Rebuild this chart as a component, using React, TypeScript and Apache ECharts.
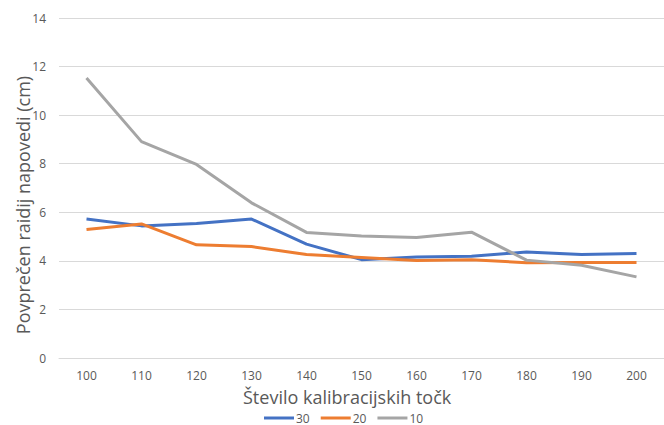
import React, { useEffect, useRef } from "react";
import * as echarts from "echarts";

const categories = ["100", "110", "120", "130", "140", "150", "160", "170", "180", "190", "200"];
const series30 = [5.72, 5.44, 5.54, 5.72, 4.69, 4.05, 4.16, 4.19, 4.36, 4.26, 4.3];
const series20 = [5.29, 5.52, 4.66, 4.59, 4.26, 4.14, 4.01, 4.05, 3.92, 3.93, 3.93];
const series10 = [11.53, 8.91, 7.97, 6.39, 5.17, 5.02, 4.96, 5.18, 4.03, 3.82, 3.34];
const seriesNames = ["30", "20", "10"];
const colors = ["#4472C4", "#ED7D31", "#A5A5A5"];

const FONT = "'Open Sans', 'Noto Sans', sans-serif";

export default function App() {
  const ref = useRef<HTMLDivElement>(null);

  useEffect(() => {
    if (!ref.current) return;
    const chart = echarts.init(ref.current, undefined, { renderer: "svg" });
    const data = [series30, series20, series10];
    chart.setOption({
      animation: false,
      color: colors,
      grid: { left: 59, right: -9, top: 18, bottom: 67 },
      legend: {
        data: seriesNames,
        top: 411,
        left: 264,
        padding: 0,
        icon: "rect",
        itemWidth: 30,
        itemHeight: 3,
        itemGap: 11,
        textStyle: {
          fontFamily: FONT,
          fontSize: 12,
          lineHeight: 14,
          color: "#595959",
          padding: [0, 0, 0, -3],
        },
      },
      xAxis: {
        type: "category",
        data: categories,
        boundaryGap: true,
        axisLine: { lineStyle: { color: "#d9d9d9" } },
        axisTick: { show: false },
        axisLabel: { fontFamily: FONT, fontSize: 12, color: "#595959", margin: 11 },
      },
      yAxis: {
        type: "value",
        min: 0,
        max: 14,
        interval: 2,
        splitLine: { lineStyle: { color: "#d9d9d9" } },
        axisLine: { show: false },
        axisTick: { show: false },
        axisLabel: { fontFamily: FONT, fontSize: 12, color: "#595959", margin: 13 },
      },
      graphic: [
        {
          type: "text",
          left: 243,
          top: 387,
          style: {
            text: "Število kalibracijskih točk",
            fontFamily: FONT,
            fontSize: 18,
            lineHeight: 20,
            fill: "#595959",
          },
        },
        {
          type: "text",
          x: 23,
          y: 205,
          rotation: Math.PI / 2,
          style: {
            text: "Povprečen raidij napovedi (cm)",
            fontFamily: FONT,
            fontSize: 18,
            fill: "#595959",
            align: "center",
            verticalAlign: "middle",
          },
        },
      ],
      series: seriesNames.map((name, i) => ({
        name,
        type: "line",
        data: data[i],
        symbol: "none",
        lineStyle: { width: 3, color: colors[i] },
        itemStyle: { color: colors[i] },
      })),
    });
    return () => chart.dispose();
  }, []);

  return <div ref={ref} style={{ width: 664, height: 425, position: "absolute", left: 0, top: 0 }} />;
}
